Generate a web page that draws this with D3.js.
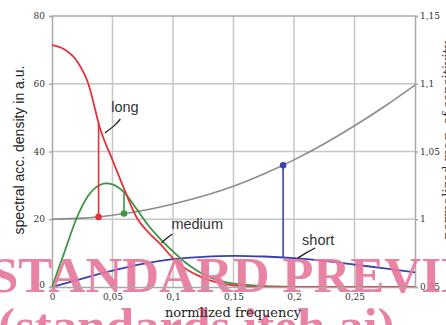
<!DOCTYPE html>
<html><head><meta charset="utf-8">
<script src="https://cdn.jsdelivr.net/npm/d3@7"></script>
<style>
html,body{margin:0;padding:0;background:#fff;}
svg{display:block;}
</style></head>
<body>
<svg id="chart" width="446" height="325"></svg>
<script>
// ---- data ----
const xTicks = [0, 0.05, 0.1, 0.15, 0.2, 0.25];
const xTickLabels = ["0", "0,05", "0,1", "0,15", "0,2", "0,25"];
const leftTicks = [0, 20, 40, 60, 80];
const leftTickLabels = ["0", "20", "40", "60", "80"];
const rightTicks = [0.95, 1, 1.05, 1.1, 1.15];
const rightTickLabels = ["0,95", "1", "1,05", "1,1", "1,15"];

const longFreq = [0, 0.01, 0.02, 0.03, 0.04, 0.05, 0.06, 0.07, 0.08, 0.09, 0.1, 0.11, 0.12, 0.13, 0.14, 0.15, 0.17, 0.2, 0.25, 0.3];
const longValues = [71.4, 70.2, 67, 60, 46.5, 37.5, 28.6, 20.5, 16, 12.5, 8.5, 5.5, 3.5, 2.0, 1.1, 0.5, 0.1, 0, 0, 0];

const mediumFreq = [0, 0.01, 0.02, 0.03, 0.04, 0.045, 0.05, 0.06, 0.07, 0.08, 0.09, 0.1, 0.11, 0.12, 0.13, 0.14, 0.15, 0.16, 0.18, 0.2, 0.3];
const mediumValues = [0, 10, 20, 27, 30.2, 30.6, 30.3, 27.8, 23, 18, 14, 10.5, 7.3, 4.8, 2.9, 1.7, 1.0, 0.6, 0.2, 0.05, 0];

const shortFreq = [0, 0.025, 0.05, 0.075, 0.1, 0.125, 0.15, 0.175, 0.2, 0.225, 0.25, 0.275, 0.3];
const shortValues = [0, 2.5, 4.8, 6.8, 8.2, 8.9, 9.2, 9.0, 8.5, 7.7, 6.6, 5.5, 4.3];

const sensFreq = [0, 0.025, 0.05, 0.075, 0.1, 0.125, 0.15, 0.175, 0.2, 0.225, 0.25, 0.275, 0.3];
const sensValues = [1.0, 1.0008, 1.003, 1.0064, 1.0113, 1.0172, 1.0244, 1.0334, 1.0438, 1.0557, 1.069, 1.0834, 1.099];

const markerNames = ["long", "medium", "short"];
const markerFreq = [0.0385, 0.0595, 0.191];
const markerSens = [1.0017, 1.0042, 1.0398];
const markerAcc = [48.4, 27.7, 8.6];

const seriesColors = {long: "#e6303c", medium: "#3a963f", short: "#3a40b0"};

// ---- chart ----
const svg = d3.select("#chart");
const x = d3.scaleLinear().domain([0, 0.3]).range([52, 415]);
const yL = d3.scaleLinear().domain([0, 80]).range([287, 16]);
const yR = d3.scaleLinear().domain([0.95, 1.15]).range([287, 16]);

const gridColor = "#c6c6c6";
const frameColor = "#a9a9a9";

// grid
const grid = svg.append("g");
grid.selectAll("line.v").data(xTicks.slice(1)).join("line")
  .attr("x1", d => x(d)).attr("x2", d => x(d))
  .attr("y1", yL(0)).attr("y2", yL(80))
  .attr("stroke", gridColor).attr("stroke-width", 1.5);
grid.selectAll("line.h").data(leftTicks.slice(1, -1)).join("line")
  .attr("x1", x(0)).attr("x2", x(0.3))
  .attr("y1", d => yL(d)).attr("y2", d => yL(d))
  .attr("stroke", gridColor).attr("stroke-width", 1.5);

svg.append("line").attr("x1", x(0)).attr("x2", x(0.3)).attr("y1", yL(80)).attr("y2", yL(80))
  .attr("stroke", frameColor).attr("stroke-width", 1.5);

// axes
const tickFont = "'DejaVu Serif', serif";
const axL = svg.append("g").attr("transform", `translate(${x(0)},0)`)
  .call(d3.axisLeft(yL).tickValues(leftTicks).tickFormat((d, i) => leftTickLabels[i]).tickSize(3).tickPadding(4));
const axR = svg.append("g").attr("transform", `translate(${x(0.3)},0)`)
  .call(d3.axisRight(yR).tickValues(rightTicks).tickFormat((d, i) => rightTickLabels[i]).tickSize(3).tickPadding(2));
const axB = svg.append("g").attr("transform", `translate(0,${yL(0)})`)
  .call(d3.axisBottom(x).tickValues(xTicks).tickFormat((d, i) => xTickLabels[i]).tickSize(0).tickPadding(7));
[axL, axR, axB].forEach(a => {
  a.select(".domain").attr("stroke", frameColor).attr("stroke-width", 1.5);
  a.selectAll(".tick line").attr("stroke", frameColor).attr("stroke-width", 1.5);
  a.selectAll(".tick text").attr("fill", "#333").style("font-family", tickFont).style("font-size", "9px");
});
axL.selectAll(".tick text").attr("dy", "0.3em");
axL.selectAll(".tick").filter(d => d === 0).select("text").attr("dy", "0.1em");
axR.selectAll(".tick text").attr("dy", "0.3em");

// axis titles
svg.append("text").attr("transform", `translate(24,150) rotate(-90)`)
  .attr("text-anchor", "middle").attr("fill", "#222")
  .style("font-family", "'Liberation Sans', Arial, sans-serif").style("font-size", "14px")
  .text("spectral acc. density in a.u.");
svg.append("text").attr("transform", `translate(452,140) rotate(-90)`)
  .attr("text-anchor", "middle").attr("fill", "#333")
  .style("font-family", tickFont).style("font-size", "13px")
  .text("normalized mag. of sensitivity");

// curves
const lineL = (fx, crv) => d3.line().x((d, i) => x(fx[i])).y(d => yL(d)).curve(crv || d3.curveMonotoneX);
const sensLine = d3.line().x((d, i) => x(sensFreq[i])).y(d => yR(d)).curve(d3.curveNatural);

svg.append("path").datum(sensValues).attr("d", sensLine)
  .attr("fill", "none").attr("stroke", "#8c8c8c").attr("stroke-width", 1.6);
svg.append("path").datum(shortValues).attr("d", lineL(shortFreq, d3.curveNatural))
  .attr("fill", "none").attr("stroke", seriesColors.short).attr("stroke-width", 1.8);
svg.append("path").datum(mediumValues).attr("d", lineL(mediumFreq))
  .attr("fill", "none").attr("stroke", seriesColors.medium).attr("stroke-width", 1.8);
svg.append("path").datum(longValues).attr("d", lineL(longFreq))
  .attr("fill", "none").attr("stroke", seriesColors.long).attr("stroke-width", 1.8);

// markers
markerNames.forEach((n, i) => {
  svg.append("line")
    .attr("x1", x(markerFreq[i])).attr("x2", x(markerFreq[i]))
    .attr("y1", yR(markerSens[i])).attr("y2", yL(markerAcc[i]))
    .attr("stroke", seriesColors[n]).attr("stroke-width", 1.6);
  svg.append("circle").attr("cx", x(markerFreq[i])).attr("cy", yR(markerSens[i])).attr("r", 3.3)
    .attr("fill", seriesColors[n]);
});

// annotation labels with leader lines
const annFont = "'Liberation Sans', Arial, sans-serif";
const ann = [
  {t: "long", tx: 0.0603, ty: 51.7, l: [[0.0565, 49.6], [0.0525, 47.8], [0.0438, 45.5]]},
  {t: "medium", tx: 0.12, ty: 17.1, l: [[0.0995, 15.6], [0.095, 14.5], [0.0905, 13.0]]},
  {t: "short", tx: 0.22, ty: 12.4, l: [[0.2174, 11.5], [0.211, 10.3], [0.2033, 8.6]]}
];
ann.forEach(a => {
  svg.append("text").attr("x", x(a.tx)).attr("y", yL(a.ty)).attr("text-anchor", "middle")
    .attr("fill", "#333").style("font-family", annFont).style("font-size", "14.5px").text(a.t);
  svg.append("path").datum(a.l)
    .attr("d", d3.line().x(d => x(d[0])).y(d => yL(d[1])).curve(d3.curveBasis))
    .attr("fill", "none").attr("stroke", "#222").attr("stroke-width", 1.3);
});

// watermark overlay
const wm = svg.append("g").attr("fill", "#e7789c").attr("fill-opacity", 0.92)
  .style("font-family", "'Liberation Serif', 'Times New Roman', serif").style("font-weight", "bold");
wm.append("text").attr("x", -10).attr("y", 292).style("font-size", "51px").text("STANDARD PREVIEW");
wm.append("text").attr("x", -2).attr("y", 343).style("font-size", "51px").text("(standards.iteh.ai)");

// bottom tick labels and x title stay readable on top
axB.raise();
svg.append("text").attr("x", 233).attr("y", 317)
  .attr("text-anchor", "middle").attr("fill", "#222")
  .style("font-family", tickFont).style("font-size", "13px")
  .text("normlized frequency");
</script>
</body></html>
